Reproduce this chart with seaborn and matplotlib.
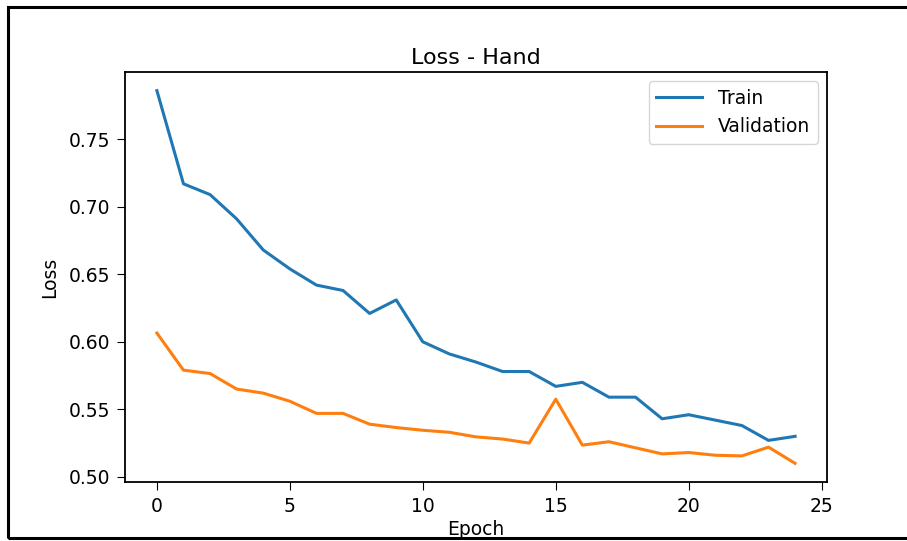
#!/usr/bin/env python3
"""Training vs validation loss curve for the hand model."""

import matplotlib.pyplot as plt
import pandas as pd
import seaborn as sns
from matplotlib.patches import Rectangle

epochs = list(range(25))
train_loss = [
    0.786, 0.717, 0.709, 0.691, 0.668, 0.654, 0.642, 0.638, 0.621, 0.631,
    0.600, 0.591, 0.585, 0.578, 0.578, 0.567, 0.570, 0.559, 0.559, 0.543,
    0.546, 0.542, 0.538, 0.527, 0.530,
]
val_loss = [
    0.6065, 0.579, 0.5765, 0.565, 0.562, 0.556, 0.547, 0.547, 0.539, 0.5365,
    0.5345, 0.533, 0.5296, 0.528, 0.525, 0.5575, 0.5235, 0.526, 0.5215, 0.517,
    0.518, 0.516, 0.5155, 0.522, 0.510,
]
series_names = ["Train", "Validation"]
colors = ["#1f77b4", "#ff7f0e"]

df = pd.DataFrame({
    "Epoch": epochs * 2,
    "Loss": train_loss + val_loss,
    "Series": [series_names[0]] * len(epochs) + [series_names[1]] * len(epochs),
})

plt.rcParams["font.family"] = ["DejaVu Sans"]
fig = plt.figure(figsize=(9.07, 5.41), dpi=100)
ax = fig.add_axes([0.1378, 0.1091, 0.774, 0.7578])

sns.lineplot(data=df, x="Epoch", y="Loss", hue="Series", palette=colors,
             linewidth=2.2, ax=ax)

ax.set_title("Loss - Hand", fontsize=16, pad=6)
ax.set_xlabel("Epoch", fontsize=13.5, labelpad=3)
ax.set_ylabel("Loss", fontsize=13.5, labelpad=7)
ax.set_xticks([0, 5, 10, 15, 20, 25])
ax.set_yticks([0.50, 0.55, 0.60, 0.65, 0.70, 0.75])
ax.tick_params(labelsize=13.5, length=5.5, pad=5)
for side in ax.spines.values():
    side.set_linewidth(1.3)

leg = ax.legend(loc="upper right", fontsize=13.5, handlelength=2.45,
                handletextpad=0.85)
leg.set_title(None)

# black frame around the whole figure (screenshot border)
fig.patches.append(Rectangle((8 / 907, 3 / 541), 1.0, 1 - 10 / 541,
                             transform=fig.transFigure, fill=False,
                             edgecolor="black", linewidth=2.2))

fig.savefig("out.png", dpi=100)
